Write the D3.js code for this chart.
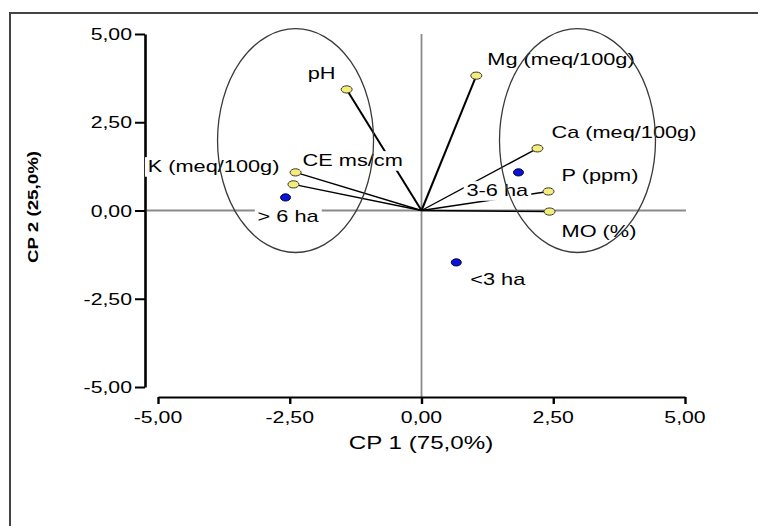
<!DOCTYPE html>
<html>
<head>
<meta charset="utf-8">
<script src="https://cdn.jsdelivr.net/npm/d3@7/dist/d3.min.js"></script>
<style>
  html, body { margin: 0; padding: 0; background: #fff; }
  svg { display: block; }
  text { font-family: "Liberation Sans", Arial, sans-serif; fill: #000; }
</style>
</head>
<body>
<svg id="chart" width="758" height="526"></svg>
<script>
// PCA biplot: soil variables (vectors) and farm-size groups (scores)
const variables = ["pH", "CE ms/cm", "K (meq/100g)", "Mg (meq/100g)", "Ca (meq/100g)", "P (ppm)", "MO (%)"];
const varCP1 = [-1.42, -2.39, -2.43, 1.04, 2.20, 2.41, 2.43];
const varCP2 = [3.43, 1.08, 0.74, 3.82, 1.76, 0.54, -0.03];

const groups = ["> 6 ha", "3-6 ha", "<3 ha"];
const groupCP1 = [-2.58, 1.84, 0.66];
const groupCP2 = [0.37, 1.08, -1.47];

// Cluster ellipses (centre and semi-axes in component units)
const clusterCP1 = [-2.39, 2.96];
const clusterCP2 = [1.98, 1.98];
const clusterR1 = [1.48, 1.48];
const clusterR2 = [3.17, 3.17];

const tickValues = [-5, -2.5, 0, 2.5, 5];
const xTitle = "CP 1 (75,0%)";
const yTitle = "CP 2 (25,0%)";

// Label placement relative to each marker: [dx, dy, anchor]
const labelPlacement = {
  "pH": [-39, -10, "start"],
  "CE ms/cm": [7, -6, "start"],
  "K (meq/100g)": [-14, -12, "end"],
  "Mg (meq/100g)": [11, -11, "start"],
  "Ca (meq/100g)": [14, -10, "start"],
  "P (ppm)": [13, -10, "start"],
  "MO (%)": [12, 25, "start"],
  "> 6 ha": [-28, 25, "start"],
  "3-6 ha": [-52, 24, "start"],
  "<3 ha": [14, 23, "start"]
};

const svg = d3.select("#chart");
const x = d3.scaleLinear().domain([-5, 5]).range([158, 685]);
const y = d3.scaleLinear().domain([-5, 5]).range([387, 34]);
const yAxisX = 145, xAxisY = 397;

const locale = d3.formatLocale({decimal: ",", thousands: ".", grouping: [3], currency: ["", ""], minus: "-"});
const fmt = locale.format(".2f");

// Horizontally widened text helper
function wideText(parent, px, py, str, opts) {
  const g = parent.append("g")
    .attr("transform", `translate(${px},${py}) scale(${opts.sx || 1.36},1)`);
  const bg = opts.bg ? g.append("rect").attr("fill", "#fff") : null;
  const t = g.append("text")
    .attr("x", 0).attr("y", 0)
    .attr("text-anchor", opts.anchor || "start")
    .style("font-size", (opts.size || 16) + "px")
    .text(str);
  if (bg) {
    const b = t.node().getBBox();
    bg.attr("x", b.x - 2).attr("y", b.y - 1).attr("width", b.width + 4).attr("height", b.height + 2);
  }
  return g;
}

// Outer frame (left and top edges)
svg.append("path")
  .attr("d", "M10,526 L10,13 L758,13")
  .attr("fill", "none").attr("stroke", "#444").attr("stroke-width", 2);

// Zero reference lines
svg.append("line")
  .attr("x1", yAxisX + 2).attr("x2", x(5) + 1)
  .attr("y1", y(0)).attr("y2", y(0))
  .attr("stroke", "#8a8a8a").attr("stroke-width", 1.8);
svg.append("line")
  .attr("x1", x(0)).attr("x2", x(0))
  .attr("y1", y(5)).attr("y2", xAxisY)
  .attr("stroke", "#8a8a8a").attr("stroke-width", 1.8);

// Y axis
const yAxis = svg.append("g").attr("transform", `translate(${yAxisX},0)`)
  .call(d3.axisLeft(y).tickValues(tickValues).tickFormat(() => "").tickSize(10).tickSizeOuter(0));
yAxis.select(".domain").attr("stroke", "#000").attr("stroke-width", 2.6);
yAxis.selectAll(".tick line").attr("stroke", "#000").attr("stroke-width", 2);
tickValues.forEach(v => {
  wideText(svg, 132, y(v) + 6, fmt(v), {anchor: "end", size: 17, sx: 1.25});
});

// X axis
const xAxis = svg.append("g").attr("transform", `translate(0,${xAxisY})`)
  .call(d3.axisBottom(x).tickValues(tickValues).tickFormat(() => "").tickSize(7).tickSizeOuter(0));
xAxis.select(".domain").attr("stroke", "#000").attr("stroke-width", 2);
xAxis.selectAll(".tick line").attr("stroke", "#000").attr("stroke-width", 2.4);
tickValues.forEach(v => {
  wideText(svg, x(v), 423, fmt(v), {anchor: "middle", size: 17, sx: 1.25});
});

// Axis titles
wideText(svg, 421, 449, xTitle, {anchor: "middle", size: 17.5, sx: 1.38});
svg.append("text")
  .attr("transform", `translate(38,207) rotate(-90)`)
  .attr("text-anchor", "middle")
  .attr("textLength", 112)
  .attr("lengthAdjust", "spacingAndGlyphs")
  .style("font-size", "15px").style("font-weight", "bold")
  .text(yTitle);

// Variable vectors from the origin
const vars = variables.map((n, i) => ({name: n, cx: varCP1[i], cy: varCP2[i]}));
svg.append("g").selectAll("line").data(vars).join("line")
  .attr("x1", x(0)).attr("y1", y(0))
  .attr("x2", d => x(d.cx)).attr("y2", d => y(d.cy))
  .attr("stroke", "#000")
  .attr("stroke-width", d => (d.name === "pH" || d.name === "Mg (meq/100g)") ? 2 : 1.4);

// Variable markers
svg.append("g").selectAll("ellipse").data(vars).join("ellipse")
  .attr("cx", d => x(d.cx)).attr("cy", d => y(d.cy))
  .attr("rx", 5.5).attr("ry", 3.6)
  .attr("fill", "#f4ee78").attr("stroke", "#333").attr("stroke-width", 1);

// Group markers
const grp = groups.map((n, i) => ({name: n, cx: groupCP1[i], cy: groupCP2[i]}));
svg.append("g").selectAll("ellipse").data(grp).join("ellipse")
  .attr("cx", d => x(d.cx)).attr("cy", d => y(d.cy))
  .attr("rx", 5).attr("ry", 3.6)
  .attr("fill", "#0a14d8").attr("stroke", "#000033").attr("stroke-width", 1);

// Labels with white boxes
const labelLayer = svg.append("g");
vars.concat(grp).forEach(d => {
  const p = labelPlacement[d.name];
  wideText(labelLayer, x(d.cx) + p[0], y(d.cy) + p[1], d.name, {anchor: p[2], size: 16, sx: 1.36, bg: true});
});

// Cluster ellipses
const clusters = clusterCP1.map((c, i) => ({cx: c, cy: clusterCP2[i], r1: clusterR1[i], r2: clusterR2[i]}));
svg.append("g").selectAll("ellipse").data(clusters).join("ellipse")
  .attr("cx", d => x(d.cx)).attr("cy", d => y(d.cy))
  .attr("rx", d => x(d.cx + d.r1) - x(d.cx))
  .attr("ry", d => y(d.cy - d.r2) - y(d.cy))
  .attr("fill", "none").attr("stroke", "#3a3a3a").attr("stroke-width", 1.3);
</script>
</body>
</html>
